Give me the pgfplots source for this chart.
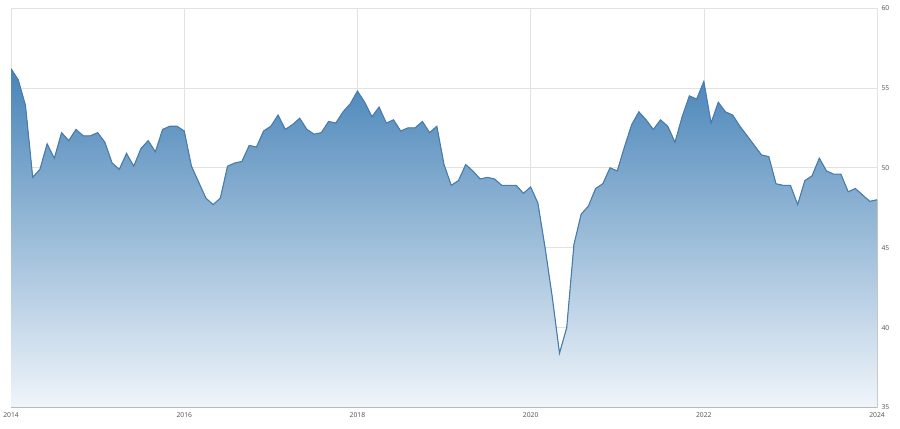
\documentclass[border=0pt]{standalone}
\usepackage{fontspec}
\setmainfont{Open Sans}
\usepackage{pgfplots}
\usepackage{pgfplotstable}
\pgfplotsset{compat=1.18}
\usepgfplotslibrary{fillbetween}

\definecolor{areatop}{RGB}{72,132,184}
\definecolor{areabot}{RGB}{240,245,250}
\definecolor{linecol}{RGB}{72,124,172}
\definecolor{gridcol}{RGB}{226,226,226}
\definecolor{labcol}{RGB}{80,80,80}

% monthly values, month 0 = Jan 2014
\pgfplotstableread{
m v
0 56.2
1 55.5
2 53.9
3 49.4
4 49.9
5 51.5
6 50.6
7 52.2
8 51.7
9 52.4
10 52.0
11 52.0
12 52.2
13 51.6
14 50.3
15 49.9
16 50.9
17 50.1
18 51.2
19 51.7
20 51.0
21 52.4
22 52.6
23 52.6
24 52.3
25 50.1
26 49.1
27 48.1
28 47.7
29 48.1
30 50.1
31 50.3
32 50.4
33 51.4
34 51.3
35 52.3
36 52.6
37 53.3
38 52.4
39 52.7
40 53.1
41 52.4
42 52.1
43 52.2
44 52.9
45 52.8
46 53.5
47 54.0
48 54.8
49 54.1
50 53.2
51 53.8
52 52.8
53 53.0
54 52.3
55 52.5
56 52.5
57 52.9
58 52.2
59 52.6
60 50.2
61 48.9
62 49.2
63 50.2
64 49.8
65 49.3
66 49.4
67 49.3
68 48.9
69 48.9
70 48.9
71 48.4
72 48.8
73 47.8
74 45.0
75 41.9
76 38.4
77 40.0
78 45.2
79 47.1
80 47.6
81 48.7
82 49.0
83 50.0
84 49.8
85 51.3
86 52.7
87 53.5
88 53.0
89 52.4
90 53.0
91 52.6
92 51.6
93 53.2
94 54.5
95 54.3
96 55.4
97 52.8
98 54.1
99 53.5
100 53.3
101 52.6
102 52.0
103 51.4
104 50.8
105 50.7
106 49.0
107 48.9
108 48.9
109 47.7
110 49.2
111 49.5
112 50.6
113 49.8
114 49.6
115 49.6
116 48.5
117 48.7
118 48.3
119 47.9
120 48.0
}\pmidata

\begin{document}
\begin{tikzpicture}
\begin{axis}[
    at={(10bp,21bp)}, anchor=south west,
    width=867bp, height=400bp, scale only axis,
    xmin=0, xmax=120, ymin=35, ymax=60,
    xtick={0,24,...,120},
    xticklabels={2014,2016,2018,2020,2022,2024},
    ytick={35,40,...,60},
    yticklabel pos=right,
    grid=major,
    grid style={gridcol, line width=0.6bp},
    axis line style={gridcol, line width=0.6bp},
    major tick length=0pt,
    tick label style={font=\fontsize{6.8}{8}\selectfont, text=labcol},
    /pgf/number format/assume math mode=true,
    xticklabel style={yshift=-2bp},
    yticklabel style={xshift=1bp},
  ]
  \addplot[name path=A, draw=none] table[x=m, y=v] {\pmidata};
  \addplot[name path=B, draw=none] coordinates {(0,35) (120,35)};
  \addplot[top color=areatop, bottom color=areabot, draw=none]
    fill between[of=A and B];
  \addplot[linecol, line width=1.1bp] table[x=m, y=v] {\pmidata};
\end{axis}
\path (0,0) rectangle (900bp,429bp);
\end{tikzpicture}
\end{document}
